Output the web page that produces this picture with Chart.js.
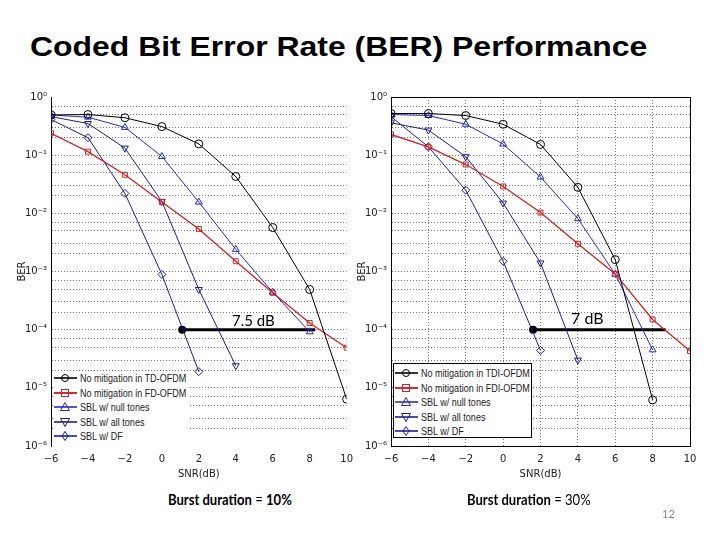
<!DOCTYPE html>
<html lang="en">
<head>
    <meta charset="UTF-8">
    <title>Coded Bit Error Rate (BER) Performance</title>
    <script src="https://cdn.jsdelivr.net/npm/chart.js"></script>
    <style>
        body { margin: 0; width: 720px; height: 540px; background: #fff; position: relative; overflow: hidden; font-family: "Liberation Sans", Arial, sans-serif; }
        .title { position: absolute; left: 30px; top: 33px; font-size: 28px; font-weight: bold; line-height: 1; color: #000; white-space: nowrap; transform: scaleX(1.14); transform-origin: left top; }
        .chartbox { position: absolute; top: 85px; }
        .caption { position: absolute; top: 490px; font-family: Lato, "Open Sans", sans-serif; font-size: 15px; color: #000; white-space: nowrap; transform: scaleX(0.87); transform-origin: left top; }
        .gap { position: absolute; font-family: Lato, "Open Sans", sans-serif; font-size: 15px; color: #000; white-space: nowrap; }
        .pagenum { position: absolute; left: 662px; top: 507px; font-family: Lato, sans-serif; font-size: 11px; color: #888; }
        .legend { position: absolute; background: #fff; font-family: "Liberation Sans", Arial, sans-serif; font-size: 10.5px; color: #222; }
        .legend .row { height: 14.5px; display: flex; align-items: center; white-space: nowrap; }
        .legend svg { margin-right: 2px; flex: none; }
        .legend span { display: inline-block; transform: scaleX(0.86); transform-origin: left center; }
    </style>
</head>
<body>
<div class="title">Coded Bit Error Rate (BER) Performance</div>

<div class="chartbox" style="left:0px;"><canvas id="chart10" width="360" height="395"></canvas></div>
<div class="chartbox" style="left:355px;"><canvas id="chart30" width="355" height="395"></canvas></div>

<div class="gap" style="left:232px; top:311px;">7.5 dB</div>
<div class="gap" style="left:571px; top:308px; font-size:16px;">7 dB</div>

<div class="legend" id="legend10" style="left:53px; top:371px; width:136px; height:75px;"></div>
<div class="legend" id="legend30" style="left:393px; top:363px; width:139px; height:75px; border:1px solid #000; box-sizing:border-box; padding-top:2px;"></div>

<div class="caption" style="left:168px;"><b>Burst duration</b> = <b>10%</b></div>
<div class="caption" style="left:467px;"><b>Burst duration</b> = 30%</div>
<div class="pagenum">12</div>

<script>
    // SNR points (dB)
    const snr = [-6, -4, -2, 0, 2, 4, 6, 8, 10];

    // Burst duration = 10%
    const tdNoMit10 = [0.49, 0.50, 0.44, 0.31, 0.156, 0.043, 0.0057, 4.9e-4, 6.4e-6];
    const fdNoMit10 = [0.238, 0.115, 0.046, 0.0156, 0.0054, 0.0015, 4.3e-4, 1.3e-4, 4.9e-5];
    const sblNull10 = [0.49, 0.45, 0.30, 0.095, 0.0156, 0.0024, 4.4e-4, 9.2e-5, null];
    const sblAll10 = [0.46, 0.35, 0.132, 0.016, 4.9e-4, 2.4e-5, null, null, null];
    const sblDf10 = [0.41, 0.20, 0.022, 8.9e-4, 1.9e-5, null, null, null, null];
    const gap10 = [1.1, 8.3];

    // Burst duration = 30%
    const tdiNoMit30 = [0.52, 0.52, 0.48, 0.34, 0.153, 0.028, 0.0016, 6.2e-6, null];
    const fdiNoMit30 = [0.227, 0.139, 0.069, 0.029, 0.0103, 0.0030, 9.1e-4, 1.5e-4, 4.3e-5];
    const sblNull30 = [0.50, 0.48, 0.34, 0.155, 0.042, 0.0081, 9.0e-4, 4.5e-5, null];
    const sblAll30 = [0.36, 0.27, 0.094, 0.015, 0.0014, 3.0e-5, null, null, null];
    const sblDf30 = [0.46, 0.139, 0.025, 0.0015, 4.4e-5, null, null, null, null];
    const gap30 = [1.6, 8.7];

    const gapBer = 1e-4;
    const labels10 = ['No mitigation in TD-OFDM', 'No mitigation in FD-OFDM', 'SBL w/ null tones', 'SBL w/ all tones', 'SBL w/ DF'];
    const labels30 = ['No mitigation in TDI-OFDM', 'No mitigation in FDI-OFDM', 'SBL w/ null tones', 'SBL w/ all tones', 'SBL w/ DF'];
    const decades = [1, 0.1, 0.01, 1e-3, 1e-4, 1e-5, 1e-6];
    const supers = ['\u2070', '\u207B\u00B9', '\u207B\u00B2', '\u207B\u00B3', '\u207B\u2074', '\u207B\u2075', '\u207B\u2076'];

    const styles = [
        { color: '#000000', marker: 'circle', pointStyle: 'circle', rot: 0, width: 1 },
        { color: '#d42020', marker: 'square', pointStyle: 'rect', rot: 0, width: 1.3 },
        { color: '#2a2ac8', marker: 'up', pointStyle: 'triangle', rot: 0, width: 1 },
        { color: '#1c1c96', marker: 'down', pointStyle: 'triangle', rot: 180, width: 1 },
        { color: '#1c1ca0', marker: 'diamond', pointStyle: 'rectRot', rot: 0, width: 1 }
    ];

    function toPoints(arr) {
        return snr.map((x, i) => ({ x: x, y: arr[i] })).filter(p => p.y !== null);
    }

    // minor grid values for the log axis
    const gridValues = [];
    for (let e = -6; e <= 0; e++) {
        [1, 2, 3, 5, 7].forEach(m => {
            const v = m * Math.pow(10, e);
            if (v <= 1.0000001) gridValues.push(v);
        });
    }

    const boxPlugin = {
        id: 'boxPlugin',
        afterDraw(chart, args, opts) {
            if (!opts.show) return;
            const a = chart.chartArea;
            const ctx = chart.ctx;
            ctx.save();
            ctx.strokeStyle = '#000';
            ctx.lineWidth = 1;
            ctx.strokeRect(Math.round(a.left) + 0.5, Math.round(a.top) + 0.5, Math.round(a.right - a.left), Math.round(a.bottom - a.top));
            ctx.restore();
        }
    };

    function makeChart(id, series, gap, cfg) {
        const datasets = series.map((arr, i) => ({
            label: cfg.labels[i],
            data: toPoints(arr),
            borderColor: styles[i].color,
            borderWidth: styles[i].width,
            pointStyle: styles[i].pointStyle,
            pointRotation: styles[i].rot,
            pointRadius: i === 1 ? 3.5 : 4,
            pointBorderWidth: 1,
            pointBorderColor: styles[i].color,
            pointBackgroundColor: 'rgba(0,0,0,0)',
            tension: 0
        }));
        datasets.push({
            label: 'gap',
            data: [{ x: gap[0], y: gapBer }, { x: gap[1], y: gapBer }],
            borderColor: '#000',
            borderWidth: 3,
            pointRadius: [2.5, 0],
            pointBackgroundColor: '#000',
            pointBorderColor: '#000'
        });

        return new Chart(document.getElementById(id), {
            type: 'line',
            data: { datasets: datasets },
            plugins: [boxPlugin],
            options: {
                responsive: false,
                animation: false,
                layout: { padding: { top: 12, right: cfg.padRight, left: 0, bottom: 0 } },
                plugins: {
                    legend: { display: false },
                    tooltip: { enabled: false },
                    boxPlugin: { show: cfg.box }
                },
                scales: {
                    x: {
                        type: 'linear',
                        min: -6,
                        max: 10,
                        afterFit: s => { s.height = 34; },
                        ticks: {
                            stepSize: 2,
                            color: '#222',
                            padding: 7,
                            font: { family: 'DejaVu Sans', size: 10 },
                            callback: v => String(v).replace('-', '\u2212')
                        },
                        grid: {
                            display: cfg.vgrid,
                            drawTicks: false,
                            color: c => (c.index === 0 || c.index === 8) ? 'rgba(0,0,0,0)' : '#777',
                            lineWidth: 1
                        },
                        border: { display: cfg.box, color: '#000', dash: [1, 2] },
                        title: {
                            display: true,
                            text: 'SNR(dB)',
                            color: '#222',
                            padding: 0,
                            font: { family: 'DejaVu Sans', size: 10 }
                        }
                    },
                    y: {
                        type: 'logarithmic',
                        min: 1e-6,
                        max: 1,
                        afterFit: s => { s.width = cfg.yWidth; },
                        afterBuildTicks: s => { s.ticks = gridValues.map(v => ({ value: v })); },
                        ticks: {
                            autoSkip: false,
                            color: '#222',
                            padding: 4,
                            font: { family: 'DejaVu Sans', size: 10 },
                            callback: v => {
                                const k = decades.findIndex(d => Math.abs(d - v) / d < 1e-6);
                                return k >= 0 ? '10' + supers[k] : '';
                            }
                        },
                        grid: {
                            drawTicks: false,
                            color: c => (c.tick && (c.tick.value >= 0.999 || c.tick.value <= 1.0001e-6)) ? 'rgba(0,0,0,0)' : '#777',
                            lineWidth: 1
                        },
                        border: { display: true, color: '#000', width: 1, dash: [1, 2] },
                        title: {
                            display: true,
                            text: 'BER',
                            color: '#222',
                            padding: { top: cfg.titlePad, bottom: 0 },
                            font: { family: 'DejaVu Sans', size: 10 }
                        }
                    }
                }
            }
        });
    }

    function markerSvg(style) {
        const c = style.color;
        let m = '';
        if (style.marker === 'circle') m = `<circle cx="12" cy="5" r="3.5" fill="none" stroke="${c}"/>`;
        if (style.marker === 'square') m = `<rect x="8.5" y="1.5" width="7" height="7" fill="none" stroke="${c}"/>`;
        if (style.marker === 'up') m = `<polygon points="12,0.5 16.5,8.5 7.5,8.5" fill="none" stroke="${c}"/>`;
        if (style.marker === 'down') m = `<polygon points="12,9.5 16.5,1.5 7.5,1.5" fill="none" stroke="${c}"/>`;
        if (style.marker === 'diamond') m = `<polygon points="12,0.5 15,5 12,9.5 9,5" fill="none" stroke="${c}"/>`;
        return `<svg width="25" height="10"><line x1="1" y1="5" x2="24" y2="5" stroke="${c}" stroke-width="${style.width + 0.6}"/>${m}</svg>`;
    }

    function buildLegend(id, labels) {
        const el = document.getElementById(id);
        el.innerHTML = labels.map((t, i) => `<div class="row">${markerSvg(styles[i])}<span>${t}</span></div>`).join('');
    }

    makeChart('chart10', [tdNoMit10, fdNoMit10, sblNull10, sblAll10, sblDf10], gap10,
        { labels: labels10, padRight: 13, yWidth: 51, titlePad: 16, box: false, vgrid: false });
    makeChart('chart30', [tdiNoMit30, fdiNoMit30, sblNull30, sblAll30, sblDf30], gap30,
        { labels: labels30, padRight: 20, yWidth: 36, titlePad: 1, box: true, vgrid: true });

    buildLegend('legend10', labels10);
    buildLegend('legend30', labels30);
</script>
</body>
</html>
